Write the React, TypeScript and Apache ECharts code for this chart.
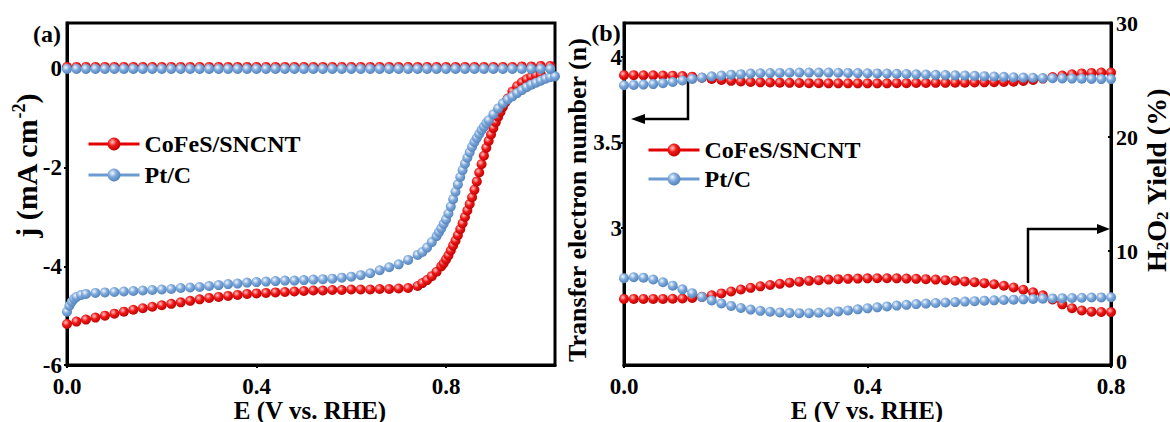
import React, { useEffect, useRef } from "react";
import * as echarts from "echarts";

const FONT = "'Liberation Serif', 'Times New Roman', serif";

// ---- Panel (a): LSV curves, E (V vs. RHE) vs. j (mA cm^-2) ----
const cofesSweepE = [
  0, 0.02, 0.04, 0.06, 0.08, 0.1, 0.12, 0.14, 0.16, 0.18, 0.2, 0.22, 0.24, 0.26, 0.28, 0.3, 0.32, 0.34, 0.36,
  0.38, 0.4, 0.42, 0.44, 0.46, 0.48, 0.5, 0.52, 0.54, 0.56, 0.58, 0.6, 0.62, 0.64, 0.66, 0.68, 0.7, 0.72, 0.74,
  0.75, 0.76, 0.77, 0.78, 0.79,
  0.795, 0.8, 0.805, 0.81, 0.815, 0.82, 0.825, 0.83, 0.835, 0.84, 0.845, 0.85, 0.855, 0.86, 0.865, 0.87, 0.875,
  0.88, 0.885, 0.89, 0.895, 0.9, 0.905, 0.91, 0.915, 0.92, 0.925, 0.93,
  0.94, 0.95, 0.96, 0.97, 0.98, 0.99, 1.0,
];
const cofesSweepJ = [
  -5.17, -5.12, -5.08, -5.04, -5.0, -4.96, -4.92, -4.88, -4.85, -4.82, -4.79, -4.76, -4.73, -4.7, -4.67, -4.64,
  -4.62, -4.6, -4.58, -4.56, -4.55, -4.54, -4.53, -4.52, -4.51, -4.5, -4.49, -4.49, -4.48, -4.48, -4.47, -4.47,
  -4.47, -4.46, -4.46, -4.45, -4.44, -4.4,
  -4.34, -4.28, -4.2, -4.11, -4.0,
  -3.94, -3.86, -3.78, -3.68, -3.58, -3.48, -3.37, -3.25, -3.13, -3.0, -2.87, -2.74, -2.6, -2.45, -2.28, -2.1,
  -1.93, -1.76, -1.6, -1.46, -1.33, -1.2, -1.08, -0.97, -0.87, -0.77, -0.68, -0.6,
  -0.46, -0.35, -0.27, -0.21, -0.16, -0.13, -0.11,
];
const ptcSweepE = [
  0, 0.005, 0.01, 0.015, 0.02, 0.03, 0.04, 0.06, 0.08, 0.1, 0.12, 0.14, 0.16, 0.18, 0.2, 0.22, 0.24, 0.26, 0.28,
  0.3, 0.32, 0.34, 0.36, 0.38, 0.4, 0.42, 0.44, 0.46, 0.48, 0.5, 0.52, 0.54, 0.56, 0.58, 0.6, 0.62, 0.64, 0.66,
  0.68, 0.7, 0.72, 0.74, 0.75, 0.76, 0.77, 0.78,
  0.785, 0.79, 0.795, 0.8, 0.805, 0.81, 0.815, 0.82, 0.825, 0.83, 0.835, 0.84, 0.845, 0.85, 0.855, 0.86, 0.865,
  0.87, 0.875, 0.88, 0.885, 0.89,
  0.9, 0.91, 0.92, 0.93, 0.94, 0.95, 0.96, 0.97, 0.98, 0.99, 1.0, 1.01, 1.02, 1.03,
];
const ptcSweepJ = [
  -4.92, -4.8, -4.72, -4.66, -4.62, -4.58, -4.56, -4.54, -4.53, -4.52, -4.51, -4.5, -4.49, -4.48, -4.47, -4.46,
  -4.44, -4.43, -4.42, -4.4, -4.38, -4.36, -4.35, -4.33, -4.32, -4.31, -4.3, -4.29, -4.29, -4.28, -4.27, -4.26,
  -4.25, -4.23, -4.21, -4.18, -4.14, -4.08, -4.02, -3.96, -3.87, -3.77, -3.71, -3.62, -3.51, -3.39,
  -3.31, -3.23, -3.14, -3.05, -2.93, -2.79, -2.64, -2.49, -2.34, -2.19, -2.05, -1.92, -1.8, -1.69, -1.58, -1.48,
  -1.4, -1.32, -1.24, -1.17, -1.1, -1.04,
  -0.92, -0.8, -0.7, -0.62, -0.56, -0.49, -0.43, -0.37, -0.32, -0.28, -0.24, -0.2, -0.17, -0.15,
];
const baselineE = [
  0, 0.02, 0.04, 0.06, 0.08, 0.1, 0.12, 0.14, 0.16, 0.18, 0.2, 0.22, 0.24, 0.26, 0.28, 0.3, 0.32, 0.34, 0.36,
  0.38, 0.4, 0.42, 0.44, 0.46, 0.48, 0.5, 0.52, 0.54, 0.56, 0.58, 0.6, 0.62, 0.64, 0.66, 0.68, 0.7, 0.72, 0.74,
  0.76, 0.78, 0.8, 0.82, 0.84, 0.86, 0.88, 0.9, 0.92, 0.94, 0.96, 0.98, 1.0, 1.02,
];
const cofesBaselineJ = [
  0.04, 0.04, 0.04, 0.04, 0.04, 0.04, 0.04, 0.04, 0.04, 0.04, 0.04, 0.04, 0.04, 0.04, 0.04, 0.04, 0.04, 0.04,
  0.04, 0.04, 0.04, 0.04, 0.04, 0.04, 0.04, 0.04, 0.04, 0.04, 0.04, 0.04, 0.04, 0.04, 0.04, 0.04, 0.04, 0.04,
  0.04, 0.04, 0.04, 0.04, 0.04, 0.04, 0.04, 0.04, 0.04, 0.04, 0.04, 0.04, 0.05, 0.05, 0.06, 0.06,
];
const ptcBaselineJ = [
  0, 0, 0, 0, 0, 0, 0, 0, 0, 0, 0, 0, 0, 0, 0, 0, 0, 0, 0, 0, 0, 0, 0, 0, 0, 0, 0, 0, 0, 0, 0, 0, 0, 0, 0, 0,
  0, 0, 0, 0, 0, 0, 0, 0, 0, 0, 0, 0, 0, 0, 0, 0,
];

// ---- Panel (b): electron transfer number and H2O2 yield ----
const potentialB = [
  0, 0.016, 0.032, 0.048, 0.064, 0.08, 0.096, 0.112, 0.128, 0.144, 0.16, 0.176, 0.192, 0.208, 0.224, 0.24, 0.256,
  0.272, 0.288, 0.304, 0.32, 0.336, 0.352, 0.368, 0.384, 0.4, 0.416, 0.432, 0.448, 0.464, 0.48, 0.496, 0.512,
  0.528, 0.544, 0.56, 0.576, 0.592, 0.608, 0.624, 0.64, 0.656, 0.672, 0.688, 0.704, 0.72, 0.736, 0.752, 0.768,
  0.784, 0.8,
];
const cofesN = [
  3.895, 3.895, 3.894, 3.894, 3.893, 3.892, 3.89, 3.886, 3.88, 3.873, 3.867, 3.862, 3.858, 3.855, 3.853, 3.852,
  3.851, 3.85, 3.849, 3.848, 3.848, 3.847, 3.847, 3.847, 3.847, 3.847, 3.847, 3.847, 3.848, 3.848, 3.849, 3.849,
  3.85, 3.85, 3.851, 3.851, 3.852, 3.853, 3.854, 3.855, 3.857, 3.861, 3.867, 3.875, 3.884, 3.893, 3.9, 3.905,
  3.908, 3.91, 3.91,
];
const ptcN = [
  3.836, 3.838, 3.84, 3.843, 3.848, 3.855, 3.864, 3.873, 3.881, 3.888, 3.893, 3.898, 3.901, 3.904, 3.906, 3.907,
  3.908, 3.909, 3.91, 3.91, 3.91, 3.91, 3.909, 3.908, 3.907, 3.906, 3.905, 3.904, 3.903, 3.902, 3.9, 3.899,
  3.897, 3.896, 3.894, 3.893, 3.891, 3.889, 3.887, 3.885, 3.883, 3.881, 3.88, 3.878, 3.877, 3.876, 3.875, 3.874,
  3.873, 3.872, 3.872,
];
const cofesH2O2 = [
  5.8, 5.8, 5.8, 5.8, 5.8, 5.81, 5.83, 5.88, 5.98, 6.12, 6.28, 6.45, 6.62, 6.77, 6.9, 7.02, 7.12, 7.22, 7.31,
  7.38, 7.44, 7.49, 7.53, 7.56, 7.58, 7.6, 7.61, 7.61, 7.6, 7.58, 7.56, 7.53, 7.49, 7.44, 7.39, 7.33, 7.26, 7.18,
  7.08, 6.95, 6.8, 6.6, 6.38, 6.12, 5.75, 5.32, 4.98, 4.78, 4.68, 4.65, 4.64,
];
const ptcH2O2 = [
  7.62, 7.7, 7.66, 7.5, 7.26, 6.96, 6.64, 6.3, 5.97, 5.66, 5.4, 5.18, 5.0, 4.86, 4.75, 4.67, 4.61, 4.57, 4.55,
  4.55, 4.58, 4.63, 4.7, 4.79, 4.88, 4.97, 5.06, 5.14, 5.21, 5.28, 5.34, 5.39, 5.44, 5.48, 5.52, 5.56, 5.6, 5.64,
  5.67, 5.7, 5.73, 5.76, 5.79, 5.82, 5.84, 5.86, 5.88, 5.9, 5.92, 5.93, 5.94,
];

// ---- Tick values ----
const ticksAE = [0, 0.4, 0.8];
const ticksAJ = [-6, -4, -2, 0];
const ticksBE = [0, 0.4, 0.8];
const ticksBN = [3, 3.5, 4];
const ticksBYield = [0, 10, 20, 30];

const SERIES_A = "CoFeS/SNCNT";
const SERIES_B = "Pt/C";

const RED = "#e40000";
const BLUE = "#6c9bd2";

const ball = (light: string, mid: string, dark: string) => ({
  type: "radial",
  x: 0.38,
  y: 0.35,
  r: 0.7,
  colorStops: [
    { offset: 0, color: light },
    { offset: 0.45, color: mid },
    { offset: 1, color: dark },
  ],
});
const redBall = ball("#ffc8c8", "#f01818", "#b80000");
const blueBall = ball("#f4f8ff", "#7ea9db", "#4f7fb8");

const pairs = (xs: number[], ys: number[]) => xs.map((x, i) => [x, ys[i]]);

const lineSeries = (
  name: string,
  data: number[][],
  color: string,
  fill: any,
  xAxisIndex: number,
  yAxisIndex: number
) => ({
  type: "line",
  name,
  data,
  xAxisIndex,
  yAxisIndex,
  symbol: "circle",
  symbolSize: 10,
  showSymbol: true,
  showAllSymbol: true,
  clip: false,
  silent: true,
  lineStyle: { color, width: 1.5 },
  itemStyle: { color: fill, borderWidth: 0 },
});

const tickLabel = {
  color: "#000",
  fontFamily: FONT,
  fontWeight: "bold",
  fontSize: 23,
  lineHeight: 20,
};
const blackLine = { show: true, onZero: false, lineStyle: { color: "#000", width: 3 } };

const valueAxis = (
  gridIndex: number,
  min: number,
  max: number,
  ticks: number[],
  fmt: (v: number) => string,
  extra: any = {}
) => ({
  type: "value",
  gridIndex,
  min,
  max,
  axisLine: blackLine,
  splitLine: { show: false },
  axisTick: {
    show: true,
    customValues: ticks,
    length: 3,
    inside: !!extra.tickInside,
    lineStyle: { color: "#000", width: 2 },
  },
  axisLabel: {
    ...tickLabel,
    ...(extra.fontSize ? { fontSize: extra.fontSize, lineHeight: extra.fontSize - 4 } : {}),
    customValues: ticks,
    formatter: fmt,
    margin: extra.margin ?? 6,
    ...(extra.rich ? { rich: extra.rich } : {}),
  },
  ...(extra.position ? { position: extra.position } : {}),
});

const text = (x: number, y: number, str: string, size: number, rotate = false, rich: any = undefined) => ({
  type: "text",
  x,
  y,
  rotation: rotate ? Math.PI / 2 : 0,
  style: {
    fontFamily: FONT,
    fontWeight: "bold",
    fontSize: size,
    fill: "#000",
    text: str,
    align: "center",
    verticalAlign: "middle",
    ...(rich ? { rich } : {}),
  },
});

const smallRich = (size: number, shiftUp: boolean) => ({
  fontFamily: FONT,
  fontWeight: "bold",
  fontSize: size,
  fill: "#000",
  padding: shiftUp ? [0, 0, 14, 0] : [12, 0, 0, 0],
});

export default function App() {
  const ref = useRef<HTMLDivElement>(null);

  useEffect(() => {
    if (!ref.current) return;
    const chart = echarts.init(ref.current, undefined, { renderer: "svg" });

    const legendCommon = {
      orient: "vertical",
      itemWidth: 51,
      itemHeight: 16,
      selectedMode: false,
      lineStyle: { width: 3 },
      textStyle: { ...tickLabel, fontSize: 24, lineHeight: 24 },
      data: [SERIES_A, SERIES_B],
    };

    chart.setOption({
      animation: false,
      backgroundColor: "#fff",
      grid: [
        {
          left: 67,
          top: 23,
          width: 488,
          height: 342,
          show: true,
          borderColor: "#000",
          borderWidth: 3,
          backgroundColor: "transparent",
          outerBoundsMode: "none",
        },
        {
          left: 624,
          top: 23,
          width: 487,
          height: 342,
          show: true,
          borderColor: "#000",
          borderWidth: 3,
          backgroundColor: "transparent",
          outerBoundsMode: "none",
        },
      ],
      legend: [
        { ...legendCommon, left: 82, top: 127, itemGap: 7 },
        { ...legendCommon, left: 642, top: 133, itemGap: 5 },
      ],
      xAxis: [
        valueAxis(0, 0, 1.03, ticksAE, (v) => v.toFixed(1), { margin: 11 }),
        valueAxis(1, 0, 0.8, ticksBE, (v) => v.toFixed(1), { margin: 11 }),
      ],
      yAxis: [
        valueAxis(0, -6, 0.93, ticksAJ, (v) => String(v), { margin: 5 }),
        valueAxis(1, 2.2, 4.2, ticksBN, (v) => String(v), { margin: 2 }),
        valueAxis(1, 0, 30, ticksBYield, (v) => (v === 0 ? "{lo|0}" : String(v)), {
          margin: 5,
          position: "right",
          tickInside: true,
          fontSize: 22,
          rich: {
            lo: {
              fontFamily: FONT,
              fontWeight: "bold",
              fontSize: 22,
              color: "#000",
              lineHeight: 16,
              padding: [0, 0, 8, 0],
            },
          },
        }),
      ],
      series: [
        lineSeries(SERIES_A, pairs(cofesSweepE, cofesSweepJ), RED, redBall, 0, 0),
        lineSeries(SERIES_A, pairs(baselineE, cofesBaselineJ), RED, redBall, 0, 0),
        lineSeries(SERIES_B, pairs(ptcSweepE, ptcSweepJ), BLUE, blueBall, 0, 0),
        lineSeries(SERIES_B, pairs(baselineE, ptcBaselineJ), BLUE, blueBall, 0, 0),
        lineSeries(SERIES_A, pairs(potentialB, cofesN), RED, redBall, 1, 1),
        lineSeries(SERIES_B, pairs(potentialB, ptcN), BLUE, blueBall, 1, 1),
        lineSeries(SERIES_A, pairs(potentialB, cofesH2O2), RED, redBall, 1, 2),
        lineSeries(SERIES_B, pairs(potentialB, ptcH2O2), BLUE, blueBall, 1, 2),
      ],
      graphic: [
        text(47, 34, "(a)", 24),
        text(606, 33, "(b)", 24),
        text(310, 410, "E (V vs. RHE)", 25),
        text(867, 410, "E (V vs. RHE)", 25),
        text(26, 166, "j (mA cm{sup|-2})", 30, true, { sup: smallRich(18, true) }),
        text(577, 200, "Transfer electron number (n)", 26, true),
        text(1156, 180, "H{sub|2}O{sub|2} Yield (%)", 28, true, { sub: smallRich(17, false) }),
        // arrow pointing to the left-hand axis
        {
          type: "polyline",
          shape: { points: [[688, 81], [688, 119], [642, 119]] },
          style: { stroke: "#000", lineWidth: 2.5, fill: null },
        },
        {
          type: "polygon",
          shape: { points: [[631, 119], [645, 114], [645, 124]] },
          style: { fill: "#000" },
        },
        // arrow pointing to the right-hand axis
        {
          type: "polyline",
          shape: { points: [[1028, 283], [1028, 229], [1099, 229]] },
          style: { stroke: "#000", lineWidth: 2.5, fill: null },
        },
        {
          type: "polygon",
          shape: { points: [[1110, 229], [1097, 224], [1097, 234]] },
          style: { fill: "#000" },
        },
      ],
    });

    return () => chart.dispose();
  }, []);

  return (
    <div
      ref={ref}
      style={{ position: "absolute", left: 0, top: 0, width: 1170, height: 422, background: "#fff" }}
    />
  );
}
